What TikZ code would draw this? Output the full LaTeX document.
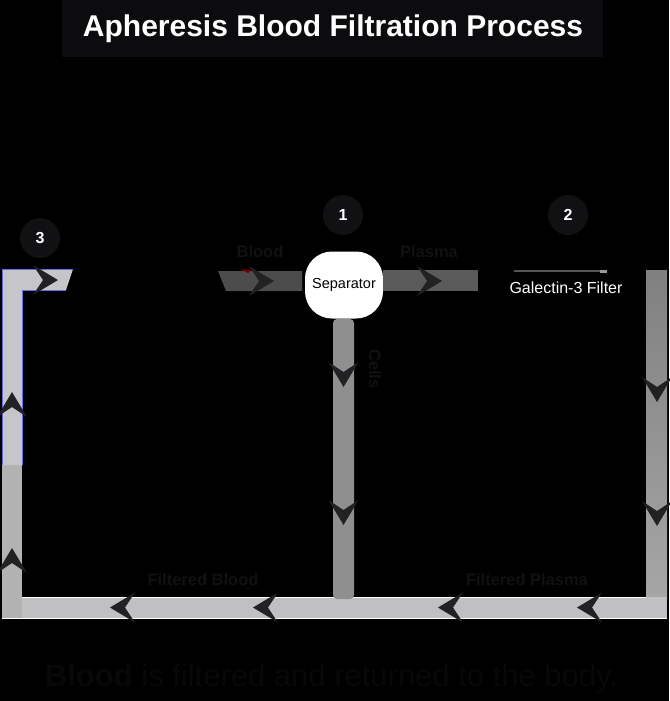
\documentclass[tikz,border=0pt]{standalone}
\usepackage{fontspec}
\setmainfont{Liberation Sans}
\definecolor{titlebg}{HTML}{0C0C0F}
\definecolor{circcol}{HTML}{111114}
\definecolor{dimtxt}{HTML}{111111}
\definecolor{dimtxtb}{HTML}{080808}
\definecolor{bloodcol}{HTML}{4C4C4C}
\definecolor{plasmacol}{HTML}{5A5A5A}
\definecolor{cellcol}{HTML}{8F8F8F}
\definecolor{rightcolA}{HTML}{808080}
\definecolor{rightcolB}{HTML}{A6A6A6}
\definecolor{botcol}{HTML}{C0C0C2}
\definecolor{leftcol}{HTML}{C6C6CA}
\definecolor{leftlow}{HTML}{B2B2B2}
\definecolor{blueedge}{HTML}{6A6AE6}
\definecolor{chevcol}{HTML}{222224}
\definecolor{filtcol}{HTML}{555555}
\begin{document}
\begin{tikzpicture}[x=1pt,y=-1pt,
  dimlabel/.style={text=dimtxt, font=\bfseries\fontsize{16.5}{18}\selectfont, inner sep=0pt},
  numcirc/.style={circle, fill=circcol, minimum size=40pt, inner sep=0pt, text=white, font=\bfseries\fontsize{16}{18}\selectfont},
  chev/.pic={\fill[chevcol] (0,0) -- (-25,-15) -- (-15,0) -- (-25,15) -- cycle;}
]
\useasboundingbox (0,0) rectangle (669,701);
\fill[black] (0,0) rectangle (669,701);

% title
\fill[titlebg] (62,0) rectangle (603,57);
\node[anchor=base, text=white, font=\bfseries\fontsize{30}{34}\selectfont, inner sep=0pt] (title) at (333,37) {Apheresis Blood Filtration Process};

% step circles
\node[numcirc] (n1) at (343,215) {1};
\node[numcirc] (n2) at (568,215) {2};
\node[numcirc] (n3) at (40,238) {3};

% named corner coordinates of the pipe loop
\coordinate (tlEnd) at (73,269);
\coordinate (blCorner) at (2,618);
\coordinate (brCorner) at (667,618);
\coordinate (rTop) at (646,270);

% right pipe
\shade[top color=rightcolA, bottom color=rightcolB] (rTop) rectangle (667,598);

% bottom pipe
\fill[botcol] (2,597) rectangle (brCorner);
\draw[white, line width=1pt] (22,597) -- (646,597);
\draw[white, line width=1pt] (blCorner) -- (brCorner);

% left pipe
\fill[leftlow] (2,465) rectangle (22,618);
\fill[leftcol] (2,269) -- (tlEnd) -- (66,290) -- (22,290) -- (22,465) -- (2,465) -- cycle;
\draw[blueedge, line width=1pt] (2,465) -- (2,269) -- (tlEnd);
\draw[blueedge, line width=1pt] (66,290) -- (22,290) -- (22,465);

% separator
\node[rectangle, rounded corners=27pt, fill=white, minimum width=78pt, minimum height=67pt, inner sep=0pt,
      font=\fontsize{14.5}{16}\selectfont, text=black] (sep) at (344,285) {Separator};

% blood pipe
\coordinate (bloodStart) at (218,271);
\fill[bloodcol] (bloodStart) -- (302,271) -- (302,291) -- (226,291) -- cycle;
\fill[red!45!black] (240,269) -- (252,270) -- (248,273) -- cycle;
% plasma pipe
\fill[plasmacol] (383,270) rectangle (478,291);
% cells pipe
\fill[cellcol, rounded corners=4pt] (333,319) rectangle (354,599);

% filter
\coordinate (fA) at (514,271);
\coordinate (fB) at (607,271);
\draw[filtcol, line width=2.5pt] (fA) -- (fB);
\draw[gray!80, line width=3pt] (600,271) -- (fB);
\node[text=white, font=\fontsize{16}{18}\selectfont, inner sep=0pt] (filter) at (566,288) {Galectin-3 Filter};

% chevrons
\pic at (58,280) {chev};
\pic at (274,281) {chev};
\pic at (442,281) {chev};
\pic[rotate=-90] at (657,402) {chev};
\pic[rotate=-90] at (657,526) {chev};
\pic[rotate=-90] at (343.5,387) {chev};
\pic[rotate=-90] at (343.5,525) {chev};
\pic[rotate=180] at (110,607.5) {chev};
\pic[rotate=180] at (253,607.5) {chev};
\pic[rotate=180] at (438,607.5) {chev};
\pic[rotate=180] at (577,607.5) {chev};
\pic[rotate=90] at (12,392) {chev};
\pic[rotate=90] at (12,548) {chev};

% dim labels
\node[dimlabel] (lblood) at (260,252) {Blood};
\node[dimlabel] (lplasma) at (429,252) {Plasma};
\node[dimlabel, rotate=-90] (lcells) at (375,369) {Cells};
\node[dimlabel] (lfb) at (203,580) {Filtered Blood};
\node[dimlabel] (lfp) at (527,580) {Filtered Plasma};

% caption
\node[anchor=base, text=dimtxtb, font=\fontsize{31}{36}\selectfont, inner sep=0pt] (cap) at (331.5,686) {\textbf{Blood} is filtered and returned to the body.};
\end{tikzpicture}
\end{document}
